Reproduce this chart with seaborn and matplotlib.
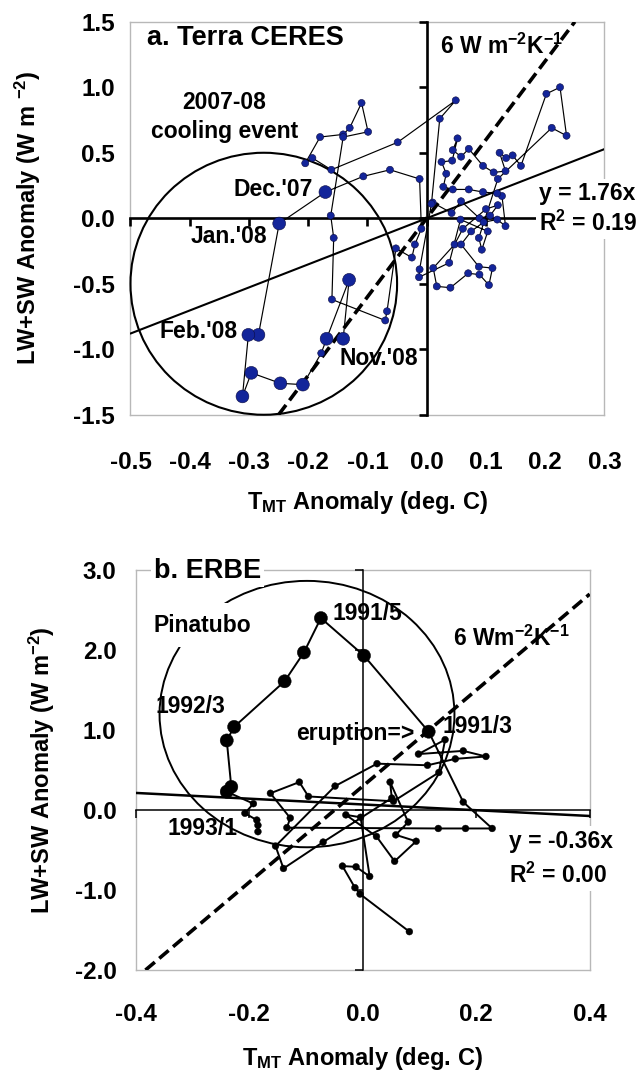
import numpy as np
import pandas as pd
import matplotlib
matplotlib.use("Agg")
import matplotlib.pyplot as plt
import seaborn as sns
from matplotlib.patches import Ellipse

# ---------------- data: panel a (Terra CERES, monthly, in time order) ----------------
a_x = [0.010, 0.042, 0.058, 0.089, 0.107, 0.120, 0.100, 0.061, 0.047, 0.011,
       0.017, 0.040, 0.070, 0.089, 0.105, 0.111, 0.088, 0.058, 0.075, 0.096,
       0.119, 0.133, 0.127, 0.119, 0.095, 0.071, 0.044, 0.028, 0.033, 0.025,
       0.043, 0.052, 0.044, 0.058, 0.071, 0.095, 0.113, 0.133, 0.123, 0.134,
       0.145, 0.159, 0.202, 0.225, 0.236, 0.211, 0.120, 0.088, 0.093, 0.103,
       0.057, 0.038, -0.013, -0.012, 0.008, 0.022, 0.049, -0.049, -0.161, -0.193,
       -0.205, -0.180, -0.141, -0.130, -0.110, -0.099, -0.141, -0.162, -0.157, -0.160,
       -0.070, -0.067, -0.052, -0.025, -0.020, -0.009, -0.012, -0.062, -0.107,
       -0.171, -0.249, -0.284, -0.301, -0.311, -0.296, -0.247, -0.209, -0.178, -0.169, -0.131, -0.141]
a_y = [0.12, 0.04, 0.13, 0.00, 0.02, 0.10, 0.07, -0.08, -0.20, -0.38,
       -0.52, -0.53, -0.42, -0.43, -0.51, -0.38, -0.37, -0.20, -0.10, -0.03,
       -0.01, -0.06, 0.17, 0.19, 0.20, 0.22, 0.22, 0.24, 0.34, 0.43,
       0.44, 0.61, 0.52, 0.47, 0.53, 0.40, 0.35, 0.36, 0.50, 0.46,
       0.48, 0.40, 0.95, 1.00, 0.63, 0.69, 0.30, -0.15, -0.24, -0.10,
       -0.01, -0.34, -0.45, -0.39, 0.11, 0.76, 0.90, 0.58, 0.37, 0.46,
       0.42, 0.62, 0.64, 0.69, 0.88, 0.66, 0.62, 0.02, -0.15, -0.62,
       -0.78, -0.71, -0.23, -0.30, -0.20, -0.08, 0.30, 0.37, 0.32,
       0.20, -0.04, -0.89, -0.89, -1.36, -1.18, -1.26, -1.27, -1.03, -0.92, -0.47, -0.92]
a_period = (["other"] * 79 + ["event"] * 8 + ["other"] + ["event"] * 3)
a_fit_slope = 1.76
a_fit_r2 = 0.19
a_ref_slope = 6.0

# ---------------- data: panel b (ERBE) ----------------
b_x = [0.082, -0.005, -0.014, -0.036, -0.012, 0.012, -0.004, -0.030, 0.024, 0.056,
       0.094, 0.058, 0.080, 0.048, 0.051, -0.070, -0.140, -0.154, -0.049, 0.025,
       0.114, 0.163, 0.217, 0.177, 0.098, 0.145, 0.134, 0.054, -0.096, -0.112,
       -0.163, -0.128, -0.134, 0.133, 0.181, 0.228, 0.177,
       0.116, 0.002, -0.074, -0.104, -0.138, -0.227, -0.240, -0.232, -0.240,
       -0.193, -0.208, -0.187, -0.185, -0.185]
b_y = [-1.52, -1.05, -0.97, -0.70, -0.71, -0.83, -0.09, -0.06, -0.33, -0.64,
       -0.39, -0.31, -0.15, 0.35, 0.15, -0.40, -0.73, -0.45, 0.30, 0.58,
       0.56, 0.64, 0.67, 0.74, 0.70, 0.88, 0.47, 0.11, 0.17, 0.35,
       0.21, -0.10, -0.22, -0.23, -0.23, -0.23, 0.10,
       0.98, 1.93, 2.40, 1.97, 1.61, 1.04, 0.87, 0.29, 0.23,
       0.08, -0.04, -0.125, -0.19, -0.27]
b_period = ["other"] * 37 + ["event"] * 9 + ["other"] * 5
b_fit_slope = -0.36
b_fit_icpt = 0.07
b_fit_r2 = 0.00
b_ref_slope = 6.0
b_ref_icpt = 0.3

a_xticks = [-0.5, -0.4, -0.3, -0.2, -0.1, 0.0, 0.1, 0.2, 0.3]
a_yticks = [-1.5, -1.0, -0.5, 0.0, 0.5, 1.0, 1.5]
b_xticks = [-0.4, -0.2, 0.0, 0.2, 0.4]
b_yticks = [-2.0, -1.0, 0.0, 1.0, 2.0, 3.0]

# ---------------- style ----------------
sns.set_style("white")
plt.rcParams["font.family"] = ["Liberation Sans", "DejaVu Sans"]
plt.rcParams["font.weight"] = "bold"
plt.rcParams["text.color"] = "black"
plt.rcParams["axes.labelcolor"] = "black"
plt.rcParams["xtick.color"] = "black"
plt.rcParams["ytick.color"] = "black"
plt.rcParams["axes.unicode_minus"] = False
plt.rcParams["mathtext.fontset"] = "custom"
plt.rcParams["mathtext.rm"] = "Liberation Sans:bold"
plt.rcParams["mathtext.bf"] = "Liberation Sans:bold"
plt.rcParams["mathtext.it"] = "Liberation Sans:bold"
plt.rcParams["mathtext.sf"] = "Liberation Sans:bold"
plt.rcParams["mathtext.default"] = "bf"

FS_TICK = 17.5
FS_LAB = 17
FS_ANN = 16.5
FS_TITLE = 19.5
NAVY = "#13259a"
FRAME = "#b8b8b8"

fig = plt.figure(figsize=(6.44, 10.72), dpi=100)


def make_axes(rect, xlim, ylim, xticks, yticks, xpad, ypad, axis_lw, tick_len):
    bg = fig.add_axes(rect)
    fg = fig.add_axes(rect, sharex=bg, sharey=bg)
    fg.patch.set_alpha(0)
    for s in bg.spines.values():
        s.set_visible(True)
        s.set_color(FRAME)
        s.set_linewidth(1.0)
    bg.set_xticks(xticks)
    bg.set_yticks(yticks)
    bg.set_xticklabels([f"{t:.1f}" for t in xticks])
    bg.set_yticklabels([f"{t:.1f}" for t in yticks])
    bg.tick_params(axis="x", length=0, pad=xpad, labelsize=FS_TICK, labelcolor="black")
    bg.tick_params(axis="y", length=0, pad=ypad, labelsize=FS_TICK, labelcolor="black")
    for lab in bg.get_xticklabels() + bg.get_yticklabels():
        lab.set_fontweight("bold")
    fg.spines["top"].set_visible(False)
    fg.spines["right"].set_visible(False)
    fg.spines["left"].set_position(("data", 0))
    fg.spines["bottom"].set_position(("data", 0))
    for k in ("left", "bottom"):
        fg.spines[k].set_color("black")
        fg.spines[k].set_linewidth(axis_lw)
        fg.spines[k].set_zorder(1.5)
    fg.xaxis.set_ticks_position("bottom")
    fg.yaxis.set_ticks_position("left")
    fg.tick_params(labelbottom=False, labelleft=False, labeltop=False, labelright=False,
                   direction="out", length=tick_len, width=axis_lw, color="black")
    bg.set_xlim(*xlim)
    bg.set_ylim(*ylim)
    return bg, fg


def hide_fg_labels(fg):
    fg.tick_params(labelbottom=False, labelleft=False, labeltop=False, labelright=False)
    fg.set_xlabel("")
    fg.set_ylabel("")


# ================= Panel a =================
rectA = [0.2026, 0.6131, 0.7360, 0.3666]
bgA, axA = make_axes(rectA, (-0.5, 0.3), (-1.5, 1.5), a_xticks, a_yticks,
                     xpad=26, ypad=11, axis_lw=1.9, tick_len=5.5)

dfA = pd.DataFrame({"x": a_x, "y": a_y, "period": a_period})
sns.lineplot(data=dfA, x="x", y="y", sort=False, estimator=None, color="black",
             lw=0.85, ax=axA, zorder=2)
sns.scatterplot(data=dfA, x="x", y="y", size="period", sizes={"other": 26, "event": 85},
                size_order=["event", "other"], color=NAVY, edgecolor="#0a0a40",
                linewidth=0.4, legend=False, ax=axA, zorder=3)

xl = np.array([-0.5, 0.3])
axA.plot(xl, a_fit_slope * xl, color="black", lw=1.5, zorder=2.5)
xd = np.array([-1.5, 1.5]) / a_ref_slope
axA.plot(xd, a_ref_slope * xd, color="black", lw=2.6, dashes=(3.4, 1.6), zorder=2.6)
axA.add_patch(Ellipse((-0.275, -0.5), 0.45, 2.0, fill=False, ec="black", lw=1.5,
                      zorder=2.4, clip_on=False))

axA.text(-0.472, 1.376, "a. Terra CERES", fontsize=FS_TITLE, fontweight="bold",
         ha="left", va="center")
axA.text(0.022, 1.31, r"6 W m$^{-2}$K$^{-1}$", fontsize=FS_ANN, fontweight="bold",
         ha="left", va="center")
axA.text(-0.341, 0.887, "2007-08", fontsize=FS_ANN, fontweight="bold", ha="center", va="center")
axA.text(-0.341, 0.66, "cooling event", fontsize=FS_ANN, fontweight="bold", ha="center", va="center")
axA.text(-0.192, 0.216, "Dec.'07", fontsize=FS_ANN, fontweight="bold", ha="right", va="center")
axA.text(-0.334, -0.14, "Jan.'08", fontsize=FS_ANN, fontweight="bold", ha="center", va="center")
axA.text(-0.319, -0.868, "Feb.'08", fontsize=FS_ANN, fontweight="bold", ha="right", va="center")
axA.text(-0.147, -1.067, "Nov.'08", fontsize=FS_ANN, fontweight="bold", ha="left", va="center")
axA.text(0.19, 0.07, f"y = {a_fit_slope:.2f}x\nR$^2$ = {a_fit_r2:.2f}", fontsize=FS_ANN,
         fontweight="bold", ha="left", va="center", linespacing=1.25, zorder=5,
         bbox=dict(boxstyle="square,pad=0.15", fc="white", ec="none"), clip_on=False)

hide_fg_labels(axA)
bgA.set_xlabel(r"T$_{MT}$ Anomaly (deg. C)", fontsize=FS_LAB, fontweight="bold")
bgA.set_ylabel(r"LW+SW Anomaly (W m $^{-2}$)", fontsize=FS_LAB, fontweight="bold")
bgA.xaxis.set_label_coords(0.5, -0.19)
bgA.yaxis.set_label_coords(-0.185, 0.5)
bgA.set_xlim(-0.5, 0.3)
bgA.set_ylim(-1.5, 1.5)

# ================= Panel b =================
rectB = [0.2112, 0.0951, 0.7045, 0.3731]
bgB, axB = make_axes(rectB, (-0.4, 0.4), (-2.0, 3.0), b_xticks, b_yticks,
                     xpad=24, ypad=14, axis_lw=1.1, tick_len=6)

dfB = pd.DataFrame({"x": b_x, "y": b_y, "period": b_period})
sns.lineplot(data=dfB, x="x", y="y", sort=False, estimator=None, color="black",
             lw=1.4, ax=axB, zorder=2)
sns.scatterplot(data=dfB, x="x", y="y", size="period", sizes={"other": 24, "event": 90},
                size_order=["event", "other"], color="black", edgecolor="black",
                linewidth=0.3, legend=False, ax=axB, zorder=3)

xl = np.array([-0.4, 0.4])
axB.plot(xl, b_fit_slope * xl + b_fit_icpt, color="black", lw=1.8, zorder=2.5)
xd = np.array([(-2.0 - b_ref_icpt) / b_ref_slope, 0.4])
axB.plot(xd, b_ref_slope * xd + b_ref_icpt, color="black", lw=2.6, dashes=(3.4, 1.6), zorder=2.6)
axB.add_patch(Ellipse((-0.0985, 1.20), 0.52, 3.33, fill=False, ec="black", lw=1.4, zorder=2.4))

axB.text(-0.368, 2.99, "b. ERBE", fontsize=FS_TITLE, fontweight="bold", ha="left", va="center",
         zorder=5, bbox=dict(boxstyle="square,pad=0.1", fc="white", ec="none"), clip_on=False)
axB.text(-0.370, 2.31, "Pinatubo", fontsize=FS_ANN, fontweight="bold", ha="left", va="center",
         zorder=5, bbox=dict(boxstyle="square,pad=0.45", fc="white", ec="none"))
axB.text(-0.366, 1.29, "1992/3", fontsize=FS_ANN, fontweight="bold", ha="left", va="center", zorder=1)
axB.text(-0.053, 2.46, "1991/5", fontsize=FS_ANN, fontweight="bold", ha="left", va="center", zorder=1)
axB.text(0.090, 0.956, "eruption=>", fontsize=FS_ANN, fontweight="bold", ha="right", va="center", zorder=1)
axB.text(0.140, 1.04, "1991/3", fontsize=FS_ANN, fontweight="bold", ha="left", va="center", zorder=1)
axB.text(0.159, 2.15, r"6 Wm$^{-2}$K$^{-1}$", fontsize=FS_ANN, fontweight="bold", ha="left", va="center")
axB.text(-0.344, -0.225, "1993/1", fontsize=FS_ANN, fontweight="bold", ha="left", va="center", zorder=1)
axB.text(0.258, -0.61, f"y = {b_fit_slope:.2f}x\nR$^2$ = {b_fit_r2:.2f}", fontsize=FS_ANN,
         fontweight="bold", ha="left", va="center", linespacing=1.5, zorder=5,
         bbox=dict(boxstyle="square,pad=0.15", fc="white", ec="none"), clip_on=False)

hide_fg_labels(axB)
bgB.set_xlabel(r"T$_{MT}$ Anomaly (deg. C)", fontsize=FS_LAB, fontweight="bold")
bgB.set_ylabel(r"LW+SW Anomaly (W m$^{-2}$)", fontsize=FS_LAB, fontweight="bold")
bgB.xaxis.set_label_coords(0.5, -0.188)
bgB.yaxis.set_label_coords(-0.174, 0.5)
bgB.set_xlim(-0.4, 0.4)
bgB.set_ylim(-2.0, 3.0)

fig.savefig("out.png", dpi=100, facecolor="white")
